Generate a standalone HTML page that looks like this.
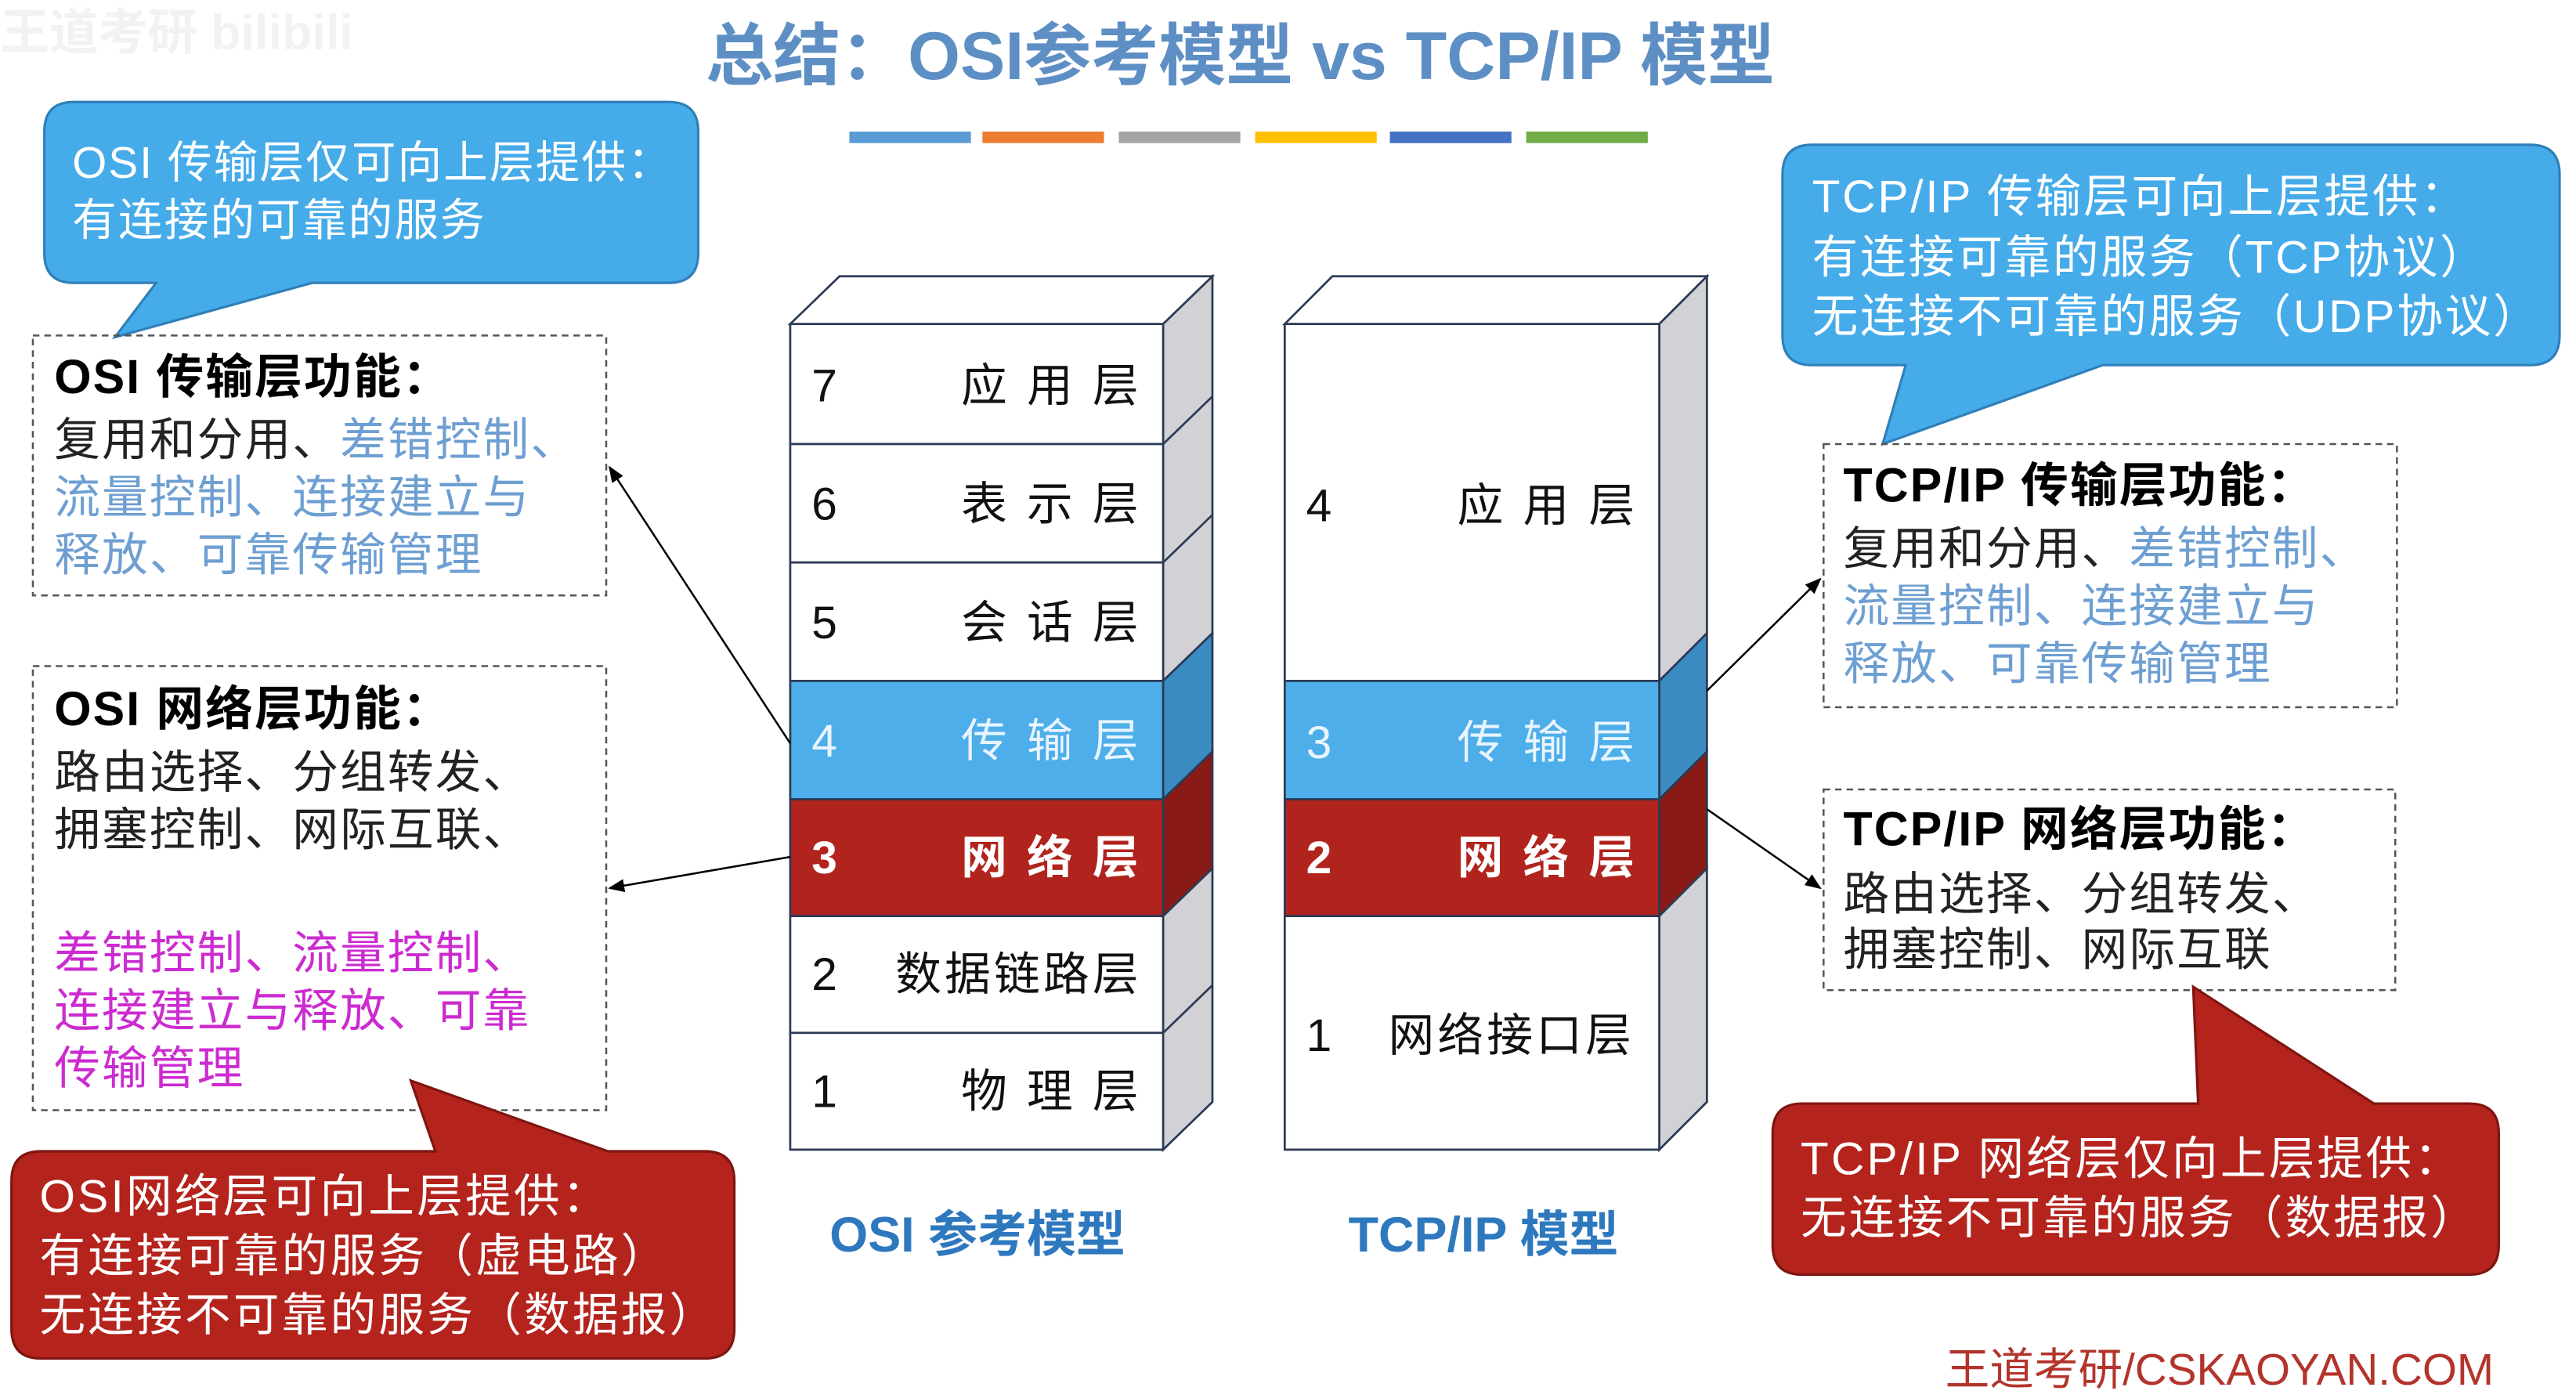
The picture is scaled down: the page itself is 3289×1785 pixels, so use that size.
<!DOCTYPE html>
<html><head><meta charset="utf-8"><style>
html,body{margin:0;padding:0;background:#fff;}
svg{display:block;}
text{font-family:"Liberation Sans","Noto Sans CJK SC",sans-serif;}
</style></head><body>
<svg width="3289" height="1785" viewBox="0 0 1568 850" preserveAspectRatio="none" xmlns="http://www.w3.org/2000/svg">
<defs>
<marker id="ah" markerWidth="10" markerHeight="8" refX="9" refY="4" orient="auto" markerUnits="userSpaceOnUse"><path d="M0,0 L10,4 L0,8 z" fill="#000"/></marker>
</defs>
<text x="0" y="30" font-size="30" fill="#f2f2f2" font-weight="bold">王道考研  bilibili</text>
<text x="755" y="48" font-size="41" font-weight="bold" fill="#5e8fc4" text-anchor="middle">总结：OSI参考模型 vs TCP/IP 模型</text>
<g>
<rect x="517" y="80" width="74" height="7" fill="#5b9bd5"/>
<rect x="598" y="80" width="74" height="7" fill="#ed7d31"/>
<rect x="681" y="80" width="74" height="7" fill="#a5a5a5"/>
<rect x="764" y="80" width="74" height="7" fill="#ffc000"/>
<rect x="846" y="80" width="74" height="7" fill="#4472c4"/>
<rect x="929" y="80" width="74" height="7" fill="#70ad47"/>
</g>
<!-- left blue callout -->
<path d="M45,62 H407 Q425,62 425,80 V154 Q425,172 407,172 H190 L70,205 L95,172 H45 Q27,172 27,154 V80 Q27,62 45,62 Z" fill="#45abe9" stroke="#2f7fb8" stroke-width="1.5"/>
<g font-size="27" fill="#fff" letter-spacing="1">
<text x="44" y="108">OSI 传输层仅可向上层提供：</text>
<text x="44" y="143">有连接的可靠的服务</text>
</g>
<!-- dashed box 1 -->
<rect x="20" y="204" width="349" height="158" fill="none" stroke="#555" stroke-dasharray="4,3" stroke-width="1.2"/>
<g font-size="28" letter-spacing="1">
<text x="33" y="239" font-size="29" font-weight="bold" fill="#000">OSI 传输层功能：</text>
<text x="33" y="277" fill="#222">复用和分用、<tspan fill="#6e9fd2">差错控制、</tspan></text>
<text x="33" y="312" fill="#6e9fd2">流量控制、连接建立与</text>
<text x="33" y="347" fill="#6e9fd2">释放、可靠传输管理</text>
</g>
<!-- dashed box 2 -->
<rect x="20" y="405" width="349" height="270" fill="none" stroke="#555" stroke-dasharray="4,3" stroke-width="1.2"/>
<g font-size="28" letter-spacing="1">
<text x="33" y="441" font-size="29" font-weight="bold" fill="#000">OSI 网络层功能：</text>
<text x="33" y="479" fill="#222">路由选择、分组转发、</text>
<text x="33" y="514" fill="#222">拥塞控制、网际互联、</text>
<text x="33" y="589" fill="#cc2bd0">差错控制、流量控制、</text>
<text x="33" y="624" fill="#cc2bd0">连接建立与释放、可靠</text>
<text x="33" y="659" fill="#cc2bd0">传输管理</text>
</g>
<!-- red callout bottom-left -->
<path d="M25,700 H265 L250,657 L370,700 H429 Q447,700 447,718 V808 Q447,826 429,826 H25 Q7,826 7,808 V718 Q7,700 25,700 Z" fill="#b4231c" stroke="#7e1510" stroke-width="1.5"/>
<g font-size="28" fill="#fff" letter-spacing="1.5">
<text x="24" y="737">OSI网络层可向上层提供：</text>
<text x="24" y="773">有连接可靠的服务（虚电路）</text>
<text x="24" y="809">无连接不可靠的服务（数据报）</text>
</g>

<!-- OSI stack -->
<g stroke="#2b3a55" stroke-width="1.3">
<path d="M481,197 L511,168 H738 L708,197 Z" fill="#fff"/>
<path d="M708,197 L738,168 V385 L708,414 Z" fill="#d2d2d6"/>
<path d="M708,414 L738,385 V457 L708,486 Z" fill="#3a8bc2"/>
<path d="M708,486 L738,457 V528 L708,557 Z" fill="#8a1a15"/>
<path d="M708,557 L738,528 V670 L708,699 Z" fill="#d2d2d6"/>
<line x1="708" y1="270" x2="738" y2="241"/>
<line x1="708" y1="342" x2="738" y2="313"/>
<line x1="708" y1="628" x2="738" y2="599"/>
<rect x="481" y="197" width="227" height="73" fill="#fff"/>
<rect x="481" y="270" width="227" height="72" fill="#fff"/>
<rect x="481" y="342" width="227" height="72" fill="#fff"/>
<rect x="481" y="414" width="227" height="72" fill="#4daee9"/>
<rect x="481" y="486" width="227" height="71" fill="#b0241d"/>
<rect x="481" y="557" width="227" height="71" fill="#fff"/>
<rect x="481" y="628" width="227" height="71" fill="#fff"/>
</g>
<g font-size="28">
<text x="494" y="244" fill="#111">7</text><text x="705" y="244" text-anchor="end" fill="#111" letter-spacing="12">应用层</text>
<text x="494" y="316" fill="#111">6</text><text x="705" y="316" text-anchor="end" fill="#111" letter-spacing="12">表示层</text>
<text x="494" y="388" fill="#111">5</text><text x="705" y="388" text-anchor="end" fill="#111" letter-spacing="12">会话层</text>
<text x="494" y="460" fill="#e8f4ff">4</text><text x="705" y="460" text-anchor="end" fill="#e8f4ff" letter-spacing="12">传输层</text>
<text x="494" y="531" fill="#fff" font-weight="bold">3</text><text x="705" y="531" text-anchor="end" fill="#fff" font-weight="bold" letter-spacing="12">网络层</text>
<text x="494" y="602" fill="#111">2</text><text x="695" y="602" text-anchor="end" fill="#111" letter-spacing="2">数据链路层</text>
<text x="494" y="673" fill="#111">1</text><text x="705" y="673" text-anchor="end" fill="#111" letter-spacing="12">物理层</text>
</g>

<!-- TCP/IP stack -->
<g stroke="#2b3a55" stroke-width="1.3">
<path d="M782,197 L811,168 H1039 L1010,197 Z" fill="#fff"/>
<path d="M1010,197 L1039,168 V385 L1010,414 Z" fill="#d2d2d6"/>
<path d="M1010,414 L1039,385 V457 L1010,486 Z" fill="#3a8bc2"/>
<path d="M1010,486 L1039,457 V528 L1010,557 Z" fill="#8a1a15"/>
<path d="M1010,557 L1039,528 V670 L1010,699 Z" fill="#d2d2d6"/>
<rect x="782" y="197" width="228" height="217" fill="#fff"/>
<rect x="782" y="414" width="228" height="72" fill="#4daee9"/>
<rect x="782" y="486" width="228" height="71" fill="#b0241d"/>
<rect x="782" y="557" width="228" height="142" fill="#fff"/>
</g>
<g font-size="28">
<text x="795" y="317" fill="#111">4</text><text x="1007" y="317" text-anchor="end" fill="#111" letter-spacing="12">应用层</text>
<text x="795" y="461" fill="#e8f4ff">3</text><text x="1007" y="461" text-anchor="end" fill="#e8f4ff" letter-spacing="12">传输层</text>
<text x="795" y="531" fill="#fff" font-weight="bold">2</text><text x="1007" y="531" text-anchor="end" fill="#fff" font-weight="bold" letter-spacing="12">网络层</text>
<text x="795" y="639" fill="#111">1</text><text x="995" y="639" text-anchor="end" fill="#111" letter-spacing="2">网络接口层</text>
</g>
<text x="595" y="761" font-size="30" font-weight="bold" fill="#2e78be" text-anchor="middle">OSI 参考模型</text>
<text x="903" y="761" font-size="30" font-weight="bold" fill="#2e78be" text-anchor="middle">TCP/IP 模型</text>

<!-- arrows -->
<g stroke="#000" stroke-width="1.2" fill="none">
<line x1="481" y1="452" x2="371" y2="284" marker-end="url(#ah)"/>
<line x1="481" y1="521" x2="371" y2="540" marker-end="url(#ah)"/>
<line x1="1039" y1="420" x2="1108" y2="352" marker-end="url(#ah)"/>
<line x1="1039" y1="492" x2="1108" y2="540" marker-end="url(#ah)"/>
</g>

<!-- right blue callout -->
<path d="M1103,88 H1540 Q1558,88 1558,106 V204 Q1558,222 1540,222 H1280 L1146,270 L1160,222 H1103 Q1085,222 1085,204 V106 Q1085,88 1103,88 Z" fill="#45abe9" stroke="#2f7fb8" stroke-width="1.5"/>
<g font-size="28" fill="#fff" letter-spacing="1.3">
<text x="1103" y="129">TCP/IP 传输层可向上层提供：</text>
<text x="1103" y="166">有连接可靠的服务（TCP协议）</text>
<text x="1103" y="202">无连接不可靠的服务（UDP协议）</text>
</g>
<!-- right dashed 1 -->
<rect x="1110" y="270" width="349" height="160" fill="none" stroke="#555" stroke-dasharray="4,3" stroke-width="1.2"/>
<g font-size="28" letter-spacing="1">
<text x="1122" y="305" font-size="29" font-weight="bold" fill="#000">TCP/IP 传输层功能：</text>
<text x="1122" y="343" fill="#222">复用和分用、<tspan fill="#6e9fd2">差错控制、</tspan></text>
<text x="1122" y="378" fill="#6e9fd2">流量控制、连接建立与</text>
<text x="1122" y="413" fill="#6e9fd2">释放、可靠传输管理</text>
</g>
<!-- right dashed 2 -->
<rect x="1110" y="480" width="348" height="122" fill="none" stroke="#555" stroke-dasharray="4,3" stroke-width="1.2"/>
<g font-size="28" letter-spacing="1">
<text x="1122" y="514" font-size="29" font-weight="bold" fill="#000">TCP/IP 网络层功能：</text>
<text x="1122" y="553" fill="#222">路由选择、分组转发、</text>
<text x="1122" y="587" fill="#222">拥塞控制、网际互联</text>
</g>
<!-- right red callout -->
<path d="M1097,671 H1338 L1335,600 L1445,671 H1503 Q1521,671 1521,689 V757 Q1521,775 1503,775 H1097 Q1079,775 1079,757 V689 Q1079,671 1097,671 Z" fill="#b4231c" stroke="#7e1510" stroke-width="1.5"/>
<g font-size="28" fill="#fff" letter-spacing="1.5">
<text x="1096" y="714">TCP/IP 网络层仅向上层提供：</text>
<text x="1096" y="750">无连接不可靠的服务（数据报）</text>
</g>

<text x="1518" y="842" font-size="27" fill="#b3342b" text-anchor="end">王道考研/CSKAOYAN.COM</text>
</svg>
</body></html>
